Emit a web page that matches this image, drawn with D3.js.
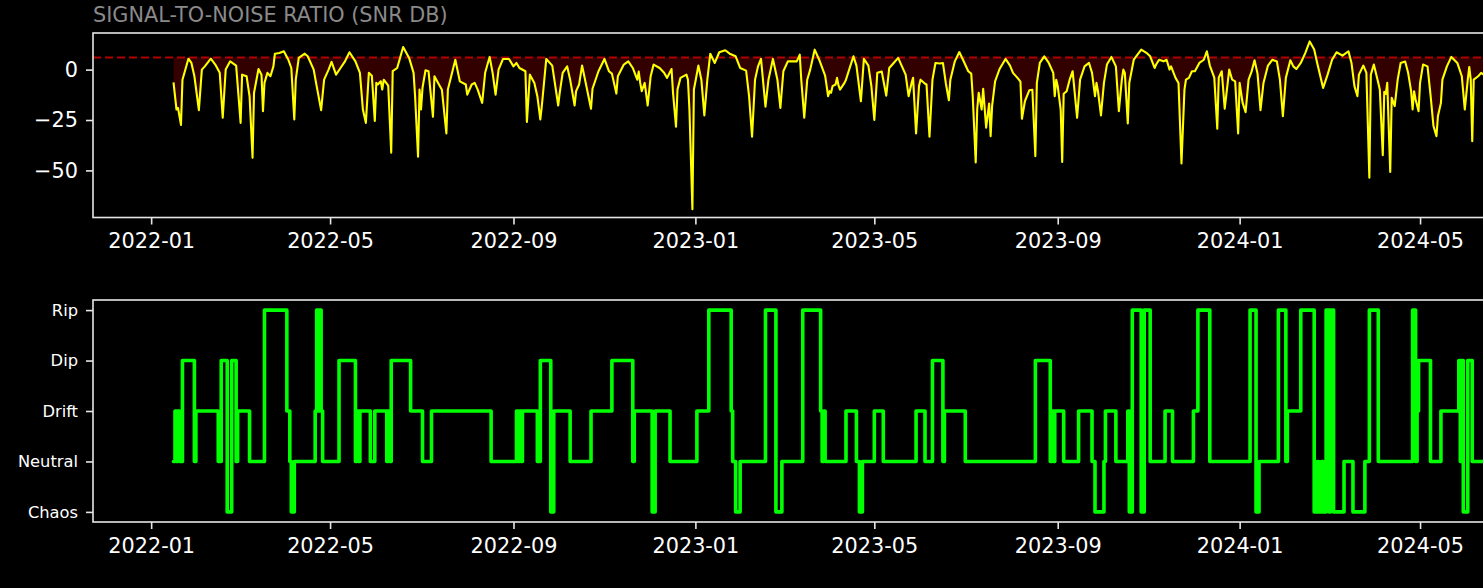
<!DOCTYPE html>
<html><head><meta charset="utf-8">
<script src="https://cdn.jsdelivr.net/npm/d3@7"></script>
<style>html,body{margin:0;padding:0;background:#000;} svg{display:block;}</style>
</head><body><svg id="c" width="1483" height="588"></svg>
<script>
// ---------------- data ----------------
const baseDate = "2022-01-01";           // day offsets below are counted from this date
const titleText = "SIGNAL-TO-NOISE RATIO (SNR DB)";
const snrThreshold = 6;
const snrDay = [15,17,18,20,21,25,27,29,32,34,36,40,43,46,48,50,53,57,60,61,64,66,68,69,72,74,75,76,78,80,82,83,86,89,92,94,96,97,99,103,105,109,111,114,116,119,121,124,127,130,133,137,140,142,144,146,148,150,151,152,154,155,156,159,161,162,165,169,173,176,177,179,180,181,182,184,186,189,190,193,195,198,199,204,207,211,212,215,217,219,222,224,227,229,231,233,236,240,243,245,247,251,252,254,257,259,261,262,265,269,270,273,274,276,279,281,284,285,287,289,291,295,296,300,304,307,309,312,313,317,320,323,326,327,328,329,331,333,335,337,341,344,346,349,350,352,353,355,359,360,361,363,364,365,367,369,371,373,375,378,381,385,388,392,395,399,401,403,405,407,409,412,414,417,420,422,424,427,433,435,436,438,440,442,445,448,452,454,455,456,457,459,460,461,462,465,466,471,473,476,478,481,483,485,487,490,491,493,495,498,501,503,506,508,510,511,513,515,516,519,520,522,524,526,529,531,533,535,536,539,542,545,548,550,551,553,554,555,557,558,560,562,563,564,566,569,573,576,578,581,583,584,586,589,591,593,594,596,599,602,605,606,607,608,610,611,612,614,616,618,621,623,626,629,631,633,634,635,637,639,641,644,647,649,651,652,653,655,656,659,664,668,670,673,674,676,679,681,683,684,687,689,691,693,694,696,698,700,703,706,708,710,713,715,716,718,720,722,723,725,727,729,730,732,734,736,738,740,742,744,746,749,752,755,757,759,761,764,766,768,771,774,777,780,782,786,789,792,795,799,803,805,807,809,810,813,815,817,818,820,823,824,826,827,828,829,831,832,834,836,838,841,843,845,846,847,848,850,851,853,856,858,860,862,863,865,866,869,872,876,879,881,883,884,885,886,887,890,892,898];
const snrValue = [-6.3,-19.8,-19,-27.4,-5,5.4,3.3,-3.3,-20.1,0,1.6,5.4,2.5,-1.6,-23.9,0,4.1,2,-26.4,-2.5,-3.3,-13.2,-43.7,-11.5,0.3,-2.5,-20.6,-6.6,-1.6,-3.3,1.6,7.9,8.2,9.1,4.9,0.8,-24.7,-5,5.8,7.9,6.6,0,-8.2,-20.1,-5,0,3.8,-2.5,0.8,4.1,8.6,4.1,-1.6,-19.8,-26.4,-1.6,-3,-25.5,-6.6,-7.4,-5.8,-9.9,-5,-8,-41.2,-0.8,0.8,11.2,5.8,-1.6,-13,-43.2,-9.9,-19.8,-9,-0.3,-0.8,-23.4,-3.3,-7.4,-10,-31.7,-9.9,4.9,-5.8,-7.4,-12.4,-7.4,-6.6,-9.9,-16.5,-1.6,6.3,-1.6,-12.4,0,5.3,5.3,1.6,3.3,0.8,-0.8,-26,-2.5,-6.6,-13.2,-24.7,-18.1,5.3,2,-3,-17.8,-11.5,-1.6,1.6,-5,-17.8,-10.7,-7.4,2,-5,-19.4,-9.5,-0.8,5.3,-0.8,-2,-11.9,-3.3,2.5,4.1,0.8,-5,-1,-6.6,-10.7,-6.6,-17.8,-3.3,2.5,0.8,-1.6,-4.1,0.3,-11.5,-28.3,-9.9,-4.1,-2.5,-5,-19.8,-69.2,-9.9,-6,2,-5,-22.7,-5,7.9,3.3,8.6,9.6,7.9,6.6,0.8,-0.5,-13.2,-33.3,-5,1.6,5.3,-18.4,-5,5.3,-5,-19,-0.8,4.1,4.1,7.4,-5,-23.9,-5,0,9.9,4.9,-3,-13.2,-10.7,-11.5,-8.2,-7.4,-4.1,-8,-9.9,-6.6,-5,6.6,2,-15.7,5.3,2,-8,-25,-1.6,-1,-5,-12.9,0.8,3.3,5.8,2.5,-2.5,-13.2,-6.6,-4.1,-31.7,-8,-5,-7,-7.4,-33.3,-5,3.3,3,3.3,-7,-15.2,-5,4.1,8.7,4,-0.8,-2,-13.2,-46.1,-19.8,-11.5,-19.8,-9.5,-28.8,-16.8,-33,-18,-5.8,0.3,5.3,2,-1.6,-4.1,-6,-24.4,-15.7,-10.2,-10,-42.9,-6.6,3.3,6.6,3.3,-1.6,-13.2,-5,-8.2,-20,-45.8,-12,-10.7,-5,-0.8,-23.9,-5,1.6,3.3,-1.6,-13.2,-6.6,-10.7,-22.7,-6.6,2.5,6.3,1.6,-20.6,-5,0,-1.6,-26.7,-6.6,4.9,9.9,8,6.6,0.8,2.5,4.9,4.1,4.9,0,1.6,-4.1,-6.6,-46.6,-9.9,-5,-4.1,-0.8,-0.8,3.3,4.9,9.1,2,-4,-29.3,-4,-0.8,-19.4,-6.6,0,-5,-5.8,-31.7,-6.6,-16.5,-21.1,-5,-1,4.6,-2,-20.1,-6.6,2,4.9,4,-5,-23.1,-4.1,4.6,1.6,0.3,3.3,8.2,14,10,3.3,-9.1,-2.5,4.9,8.6,6.9,9.1,3.3,-8.2,-13.2,-2.5,2,-1.6,-53.6,-2.5,2.5,-6.6,-9.9,-42.5,-11,-12,-6.6,-50.8,-14,-18.1,-5,3.3,4,-1.6,-10.7,-19.8,-10.7,-14.8,-20.6,-6.6,2.5,1.6,-12.4,-28,-33,-23,-16.5,-5,1.6,6.3,3.3,-3.3,-19.8,-5,1.3,-5,-35.5,-5,-3.3,-1.6,-5];
const snrTicks = [-50, -25, 0];

const regimeOrder = ["Chaos", "Neutral", "Drift", "Dip", "Rip"];
const regimeDay = [15,16,17,18,19,21,29,30,45,47,51,54,57,58,66,76,91,93,94,96,110,111,112,113,114,115,126,137,138,139,140,147,150,158,159,160,161,174,182,188,228,245,246,247,248,249,259,261,268,270,281,295,309,323,324,336,338,348,366,374,389,390,392,395,412,419,423,437,449,450,451,452,466,473,475,477,485,491,513,519,524,531,532,546,593,603,604,605,606,612,622,631,633,639,640,647,655,656,658,664,666,670,680,685,699,702,710,737,741,743,756,761,762,771,780,782,783,785,786,788,790,791,793,800,806,814,817,823,846,848,849,850,858,865,877,878,879,880,883,886,898];
const regimeState = ["Neutral","Drift","Neutral","Drift","Neutral","Dip","Neutral","Drift","Neutral","Dip","Chaos","Dip","Neutral","Drift","Neutral","Rip","Drift","Neutral","Chaos","Neutral","Drift","Rip","Drift","Rip","Drift","Neutral","Dip","Neutral","Drift","Neutral","Drift","Neutral","Drift","Neutral","Drift","Neutral","Dip","Drift","Neutral","Drift","Neutral","Drift","Neutral","Drift","Neutral","Drift","Neutral","Dip","Chaos","Drift","Neutral","Drift","Dip","Neutral","Drift","Chaos","Drift","Neutral","Drift","Rip","Drift","Neutral","Chaos","Neutral","Rip","Chaos","Neutral","Rip","Drift","Neutral","Drift","Neutral","Drift","Neutral","Chaos","Neutral","Drift","Neutral","Drift","Neutral","Dip","Neutral","Drift","Neutral","Dip","Neutral","Drift","Neutral","Drift","Neutral","Drift","Neutral","Chaos","Neutral","Drift","Neutral","Drift","Chaos","Rip","Chaos","Rip","Neutral","Drift","Neutral","Drift","Rip","Neutral","Rip","Chaos","Neutral","Rip","Neutral","Drift","Rip","Chaos","Neutral","Chaos","Neutral","Chaos","Rip","Chaos","Rip","Chaos","Neutral","Chaos","Neutral","Rip","Neutral","Rip","Neutral","Drift","Dip","Neutral","Drift","Dip","Neutral","Dip","Chaos","Dip","Neutral","Neutral"];

const xDomainDay = [-39, 1193];
const xTickEveryMonths = 4;

// ---------------- drawing ----------------
const W = 1483, H = 588;
const svg = d3.select("#c");
const FONT = "'DejaVu Sans', sans-serif";
const base = d3.timeParse("%Y-%m-%d")(baseDate);
const toDate = d => d3.timeDay.offset(base, d);
const snr = snrDay.map((d, i) => ({date: toDate(d), v: snrValue[i]}));
const regime = regimeDay.map((d, i) => ({date: toDate(d), s: regimeState[i]}));

const L = 93, R = 1930;
const top1 = 33, bot1 = 217.5, top2 = 300, bot2 = 522;
const spine = "#e6e6e6";

svg.append("rect").attr("width", W).attr("height", H).attr("fill", "#000");

const x = d3.scaleTime().domain(xDomainDay.map(toDate)).range([L, R]);
const ext = d3.extent(snrValue);
const pad = (ext[1] - ext[0]) * 0.05;
const y1 = d3.scaleLinear().domain([ext[0] - pad, ext[1] + pad]).range([bot1, top1]);
const y2 = d3.scaleLinear().domain([-0.2, regimeOrder.length - 1 + 0.2]).range([bot2, top2]);

const defs = svg.append("defs");
defs.append("clipPath").attr("id", "clip1").append("rect")
  .attr("x", L).attr("y", top1).attr("width", R - L).attr("height", bot1 - top1);
defs.append("clipPath").attr("id", "clip2").append("rect")
  .attr("x", L).attr("y", top2).attr("width", R - L).attr("height", bot2 - top2);

// top panel
const g1 = svg.append("g").attr("clip-path", "url(#clip1)");
g1.append("path").datum(snr)
  .attr("d", d3.area().x(d => x(d.date)).y0(y1(snrThreshold)).y1(d => y1(Math.min(d.v, snrThreshold))))
  .attr("fill", "rgba(255,0,0,0.2)");
g1.append("line").attr("x1", L).attr("x2", R)
  .attr("y1", y1(snrThreshold)).attr("y2", y1(snrThreshold))
  .attr("stroke", "#b00000").attr("stroke-width", 1.8).attr("stroke-dasharray", "8,4");
g1.append("path").datum(snr)
  .attr("d", d3.line().x(d => x(d.date)).y(d => y1(d.v)))
  .attr("fill", "none").attr("stroke", "#ffff00").attr("stroke-width", 2.1)
  .attr("stroke-linejoin", "round");

// bottom panel
const g2 = svg.append("g").attr("clip-path", "url(#clip2)");
g2.append("path").datum(regime)
  .attr("d", d3.line().curve(d3.curveStepAfter).x(d => x(d.date)).y(d => y2(regimeOrder.indexOf(d.s))))
  .attr("fill", "none").attr("stroke", "#00ff00").attr("stroke-width", 3.6)
  .attr("stroke-linejoin", "round").attr("stroke-linecap", "round");

// frames
[[top1, bot1], [top2, bot2]].forEach(([t, b]) => {
  svg.append("rect").attr("x", L).attr("y", t).attr("width", R - L).attr("height", b - t)
    .attr("fill", "none").attr("stroke", spine).attr("stroke-width", 1.6);
});

function styleAxis(g, size) {
  g.select(".domain").remove();
  g.selectAll(".tick line").attr("stroke", spine).attr("stroke-width", 1.6);
  g.selectAll(".tick text").attr("fill", "#ffffff").style("font-family", FONT).style("font-size", size + "px");
}

const fmt = d3.timeFormat("%Y-%m");
const visibleTicks = x.ticks(d3.timeMonth.every(xTickEveryMonths)).filter(d => x(d) + 50 <= W);
const xAxis = d3.axisBottom(x).tickValues(visibleTicks).tickFormat(fmt).tickSize(7).tickPadding(9);
styleAxis(svg.append("g").attr("transform", `translate(0,${bot1})`).call(xAxis), 20.8);
styleAxis(svg.append("g").attr("transform", `translate(0,${bot2})`).call(xAxis), 20.8);

styleAxis(svg.append("g").attr("transform", `translate(${L},0)`)
  .call(d3.axisLeft(y1).tickValues(snrTicks).tickSize(7).tickPadding(8)), 20.8);
styleAxis(svg.append("g").attr("transform", `translate(${L},0)`)
  .call(d3.axisLeft(y2).tickValues(d3.range(regimeOrder.length)).tickFormat(i => regimeOrder[i]).tickSize(7).tickPadding(8)), 16.3);

svg.append("text").attr("x", L).attr("y", 22).text(titleText)
  .attr("fill", "#8a8a8a").style("font-family", FONT).style("font-size", "20.8px");
</script></body></html>
